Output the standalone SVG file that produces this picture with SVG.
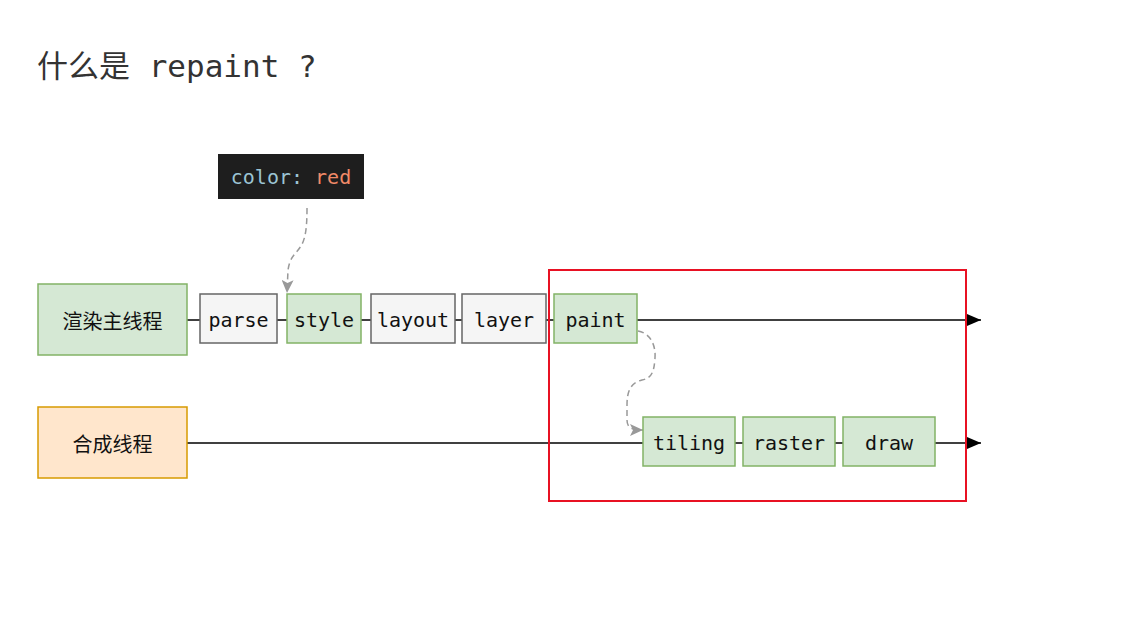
<svg xmlns="http://www.w3.org/2000/svg" width="1147" height="637" viewBox="0 0 1147 637">
<style>
.green{fill:#d5e8d4;stroke:#82b366;stroke-width:1.5}
.grey{fill:#f5f5f5;stroke:#666666;stroke-width:1.5}
.orange{fill:#ffe6cc;stroke:#d79b00;stroke-width:1.5}
.mono{font-family:"DejaVu Sans Mono","Liberation Mono",monospace;font-size:20px;fill:#111;text-anchor:middle;dominant-baseline:central}
.cjk{font-family:"Noto Sans CJK SC","Noto Sans",sans-serif;font-size:20px;fill:#111;text-anchor:middle;dominant-baseline:central}
.line{stroke:#000;stroke-width:1.5;fill:none}
.dash{stroke:#999;stroke-width:1.5;fill:none;stroke-dasharray:6 4}
</style>
<defs>
<marker id="blk" viewBox="0 0 14 12" refX="14" refY="6" markerWidth="14" markerHeight="12" markerUnits="userSpaceOnUse" orient="auto">
<path d="M0,0 L14,6 L0,12 Z" fill="#000"/>
</marker>
<marker id="gry" viewBox="0 0 13 12" refX="13" refY="6" markerWidth="13" markerHeight="12" markerUnits="userSpaceOnUse" orient="auto">
<path d="M0,0 L13,6 L0,12 L3,6 Z" fill="#999"/>
</marker>
</defs>
<rect width="1147" height="637" fill="#fff"/>
<text x="37" y="77" font-family="'DejaVu Sans Mono','Noto Sans CJK SC',monospace" font-size="31" fill="#333">什么是 repaint ?</text>

<g id="connectors">
<line class="line" x1="187" y1="320" x2="200" y2="320"/>
<line class="line" x1="277" y1="320" x2="287" y2="320"/>
<line class="line" x1="361" y1="320" x2="371" y2="320"/>
<line class="line" x1="455" y1="320" x2="462" y2="320"/>
<line class="line" x1="546" y1="320" x2="554" y2="320"/>
<line class="line" x1="637" y1="320" x2="981" y2="320" marker-end="url(#blk)"/>
<line class="line" x1="187" y1="443" x2="643" y2="443"/>
<line class="line" x1="735" y1="443" x2="743" y2="443"/>
<line class="line" x1="835" y1="443" x2="843" y2="443"/>
<line class="line" x1="935" y1="443" x2="981" y2="443" marker-end="url(#blk)"/>
<path class="dash" d="M307,208 C307,225 306,238 301,246 C296,254 290,256 288,270 L287,293" marker-end="url(#gry)"/>
<path class="dash" d="M638,331 C650,333 656,345 655,358 C654,372 652,378 642,380 C630,383 627,392 627,405 L627,420 C627,428 632,430 643,430" marker-end="url(#gry)"/>
</g>

<g id="code">
<rect x="218" y="154" width="146" height="45" fill="#1e1e1e"/>
<text x="291" y="177" font-family="'DejaVu Sans Mono',monospace" font-size="20" text-anchor="middle" dominant-baseline="central"><tspan fill="#9cc4d4">color: </tspan><tspan fill="#f08a68">red</tspan></text>
</g>

<g id="main-thread">
<rect class="green" x="38" y="284" width="149" height="71"/>
<text class="cjk" x="112.5" y="320">渲染主线程</text>
</g>
<g id="parse">
<rect class="grey" x="200" y="294" width="77" height="49"/>
<text class="mono" x="238.5" y="320">parse</text>
</g>
<g id="style">
<rect class="green" x="287" y="294" width="74" height="49"/>
<text class="mono" x="324" y="320">style</text>
</g>
<g id="layout">
<rect class="grey" x="371" y="294" width="84" height="49"/>
<text class="mono" x="413" y="320">layout</text>
</g>
<g id="layer">
<rect class="grey" x="462" y="294" width="84" height="49"/>
<text class="mono" x="504" y="320">layer</text>
</g>
<g id="paint">
<rect class="green" x="554" y="294" width="83" height="49"/>
<text class="mono" x="595.5" y="320">paint</text>
</g>

<g id="compositor-thread">
<rect class="orange" x="38" y="407" width="149" height="71"/>
<text class="cjk" x="112.5" y="443">合成线程</text>
</g>
<g id="tiling">
<rect class="green" x="643" y="417" width="92" height="49"/>
<text class="mono" x="689" y="443">tiling</text>
</g>
<g id="raster">
<rect class="green" x="743" y="417" width="92" height="49"/>
<text class="mono" x="789" y="443">raster</text>
</g>
<g id="draw">
<rect class="green" x="843" y="417" width="92" height="49"/>
<text class="mono" x="889" y="443">draw</text>
</g>

<g id="highlight">
<rect x="549" y="270" width="417" height="231" fill="none" stroke="#e81123" stroke-width="2"/>
</g>
</svg>
